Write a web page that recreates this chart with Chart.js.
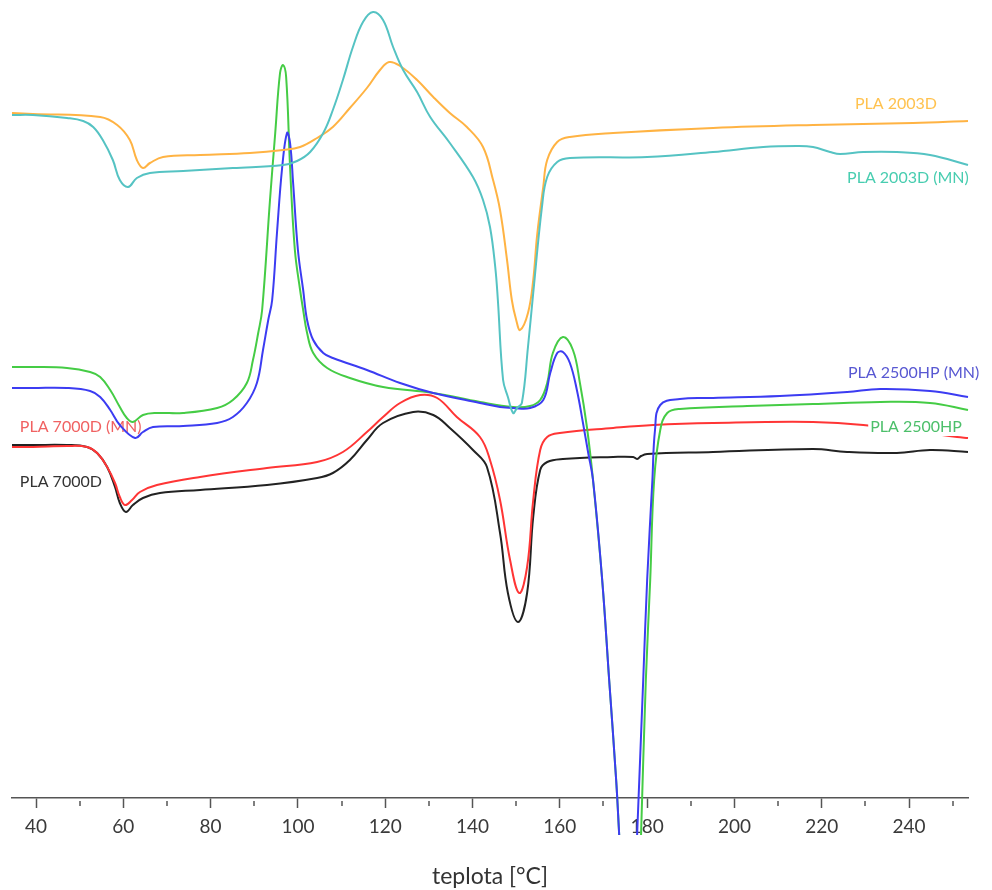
<!DOCTYPE html>
<html>
<head>
<meta charset="utf-8">
<script src="https://cdn.jsdelivr.net/npm/chart.js@4.4.1/dist/chart.umd.min.js"></script>
<style>
  html, body { margin: 0; padding: 0; background: #fff; }
  #wrap { width: 992px; height: 890px; }
</style>
</head>
<body>
<div id="wrap"><canvas id="dsc" width="992" height="890"></canvas></div>
<script>
// DSC křivky PLA — teplota [°C] / tepelný tok (relativní, posunuté křivky)

const xTicks = [40, 60, 80, 100, 120, 140, 160, 180, 200, 220, 240];
const xMinor = [50, 70, 90, 110, 130, 150, 170, 190, 210, 230, 250];

// PLA 2003D
const t2003D = [34.5, 39.3, 54.7, 58.6, 61.5, 63.1, 64.5, 66.1, 69.1, 77.6, 89.0, 96.6, 100.5, 104.4, 108.0, 111.9, 115.8, 118.8, 120.9, 123.4, 127.3, 131.0, 134.8, 138.7, 142.4, 144.7, 146.3, 147.9, 149.0, 150.0, 150.9, 152.7, 153.9, 154.8, 156.2, 157.1, 159.4, 162.3, 172.2, 195.1, 218.0, 240.9, 253.5];
const v2003D = [685, 684, 681, 673, 658, 638, 630, 635, 641, 643, 645, 648, 651, 660, 671, 690, 710, 728, 736, 732, 718, 701, 685, 671, 651, 618, 588, 538, 498, 478, 468, 485, 518, 563, 611, 638, 656, 661, 665, 670, 673, 675, 677];

// PLA 2003D (MN)
const t2003DMN = [34.5, 39.3, 47.1, 50.8, 53.1, 55.3, 57.6, 59.2, 61.1, 63.1, 66.1, 73.7, 85.1, 96.6, 99.8, 102.8, 105.8, 108.0, 110.3, 112.6, 114.9, 117.2, 119.5, 121.8, 124.1, 127.3, 130.3, 134.8, 140.1, 142.4, 144.0, 145.2, 145.8, 147.0, 148.1, 149.3, 150.2, 151.3, 152.7, 153.9, 155.9, 157.1, 159.4, 162.3, 180.0, 195.1, 206.6, 214.3, 218.0, 221.9, 224.2, 229.5, 237.2, 244.8, 253.5];
const v2003DMN = [683, 683, 680, 677, 671, 658, 638, 618, 611, 620, 625, 627, 630, 633, 637, 646, 665, 688, 718, 751, 776, 786, 778, 751, 728, 706, 681, 655, 621, 598, 571, 531, 498, 418, 401, 385, 390, 395, 451, 505, 591, 621, 636, 640, 641, 646, 651, 652, 651, 646, 644, 646, 646, 643, 633];

// PLA 2500HP (minimum tání je mimo graf -> mezera)
const t2500HP = [34.5, 39.3, 47.1, 52.4, 54.7, 57.0, 59.2, 60.8, 62.2, 64.5, 67.7, 73.7, 81.5, 85.1, 88.3, 89.7, 90.9, 91.8, 93.6, 94.8, 95.9, 96.6, 97.3, 98.2, 99.3, 100.5, 101.2, 102.1, 103.5, 106.7, 111.9, 119.5, 131.0, 141.7, 149.3, 153.2, 155.5, 157.1, 158.4, 160.7, 163.0, 164.6, 166.2, 167.6, 169.7, 171.3, 172.9, 173.6, 176.0, 178.6, 179.7, 180.7, 181.6, 183.0, 184.6, 187.5, 202.9, 218.0, 233.4, 244.8, 253.5];
const v2500HP = [431, 431, 430, 426, 421, 408, 391, 380, 376, 383, 385, 385, 390, 398, 415, 438, 465, 488, 598, 665, 725, 733, 721, 631, 548, 508, 488, 465, 445, 430, 420, 411, 405, 396, 391, 392, 398, 415, 445, 461, 448, 415, 371, 318, 218, 118, 18, -37, null, -37, 118, 218, 318, 368, 385, 389, 392, 394, 396, 395, 388];

// PLA 2500HP (MN)
const t2500HPMN = [34.5, 39.3, 47.1, 52.4, 54.7, 57.0, 59.2, 62.7, 64.5, 66.8, 73.7, 81.5, 85.1, 88.3, 90.6, 92.0, 93.2, 94.1, 95.2, 96.4, 97.5, 98.2, 98.9, 100.0, 101.2, 102.1, 103.5, 105.8, 108.0, 115.8, 123.4, 131.0, 141.7, 146.3, 149.3, 153.2, 156.2, 157.8, 159.4, 160.7, 162.3, 163.9, 165.3, 166.5, 167.6, 169.7, 171.3, 172.9, 173.6, 175.6, 177.7, 179.1, 180.0, 181.2, 181.8, 183.0, 187.5, 195.1, 210.4, 225.8, 233.4, 244.8, 253.5];
const v2500HPMN = [410, 410, 410, 407, 401, 388, 373, 360, 366, 371, 372, 375, 381, 395, 415, 448, 478, 498, 565, 631, 665, 655, 615, 548, 508, 478, 458, 445, 440, 428, 415, 405, 395, 391, 390, 390, 398, 425, 445, 446, 435, 408, 375, 345, 318, 218, 118, 18, -37, null, -37, 118, 218, 318, 368, 393, 399, 400, 402, 406, 409, 407, 401];

// PLA 7000D (MN)
const t7000DMN = [34.5, 39.3, 47.1, 51.7, 54.0, 56.3, 58.1, 59.2, 60.4, 62.0, 63.8, 67.7, 77.6, 92.9, 104.4, 110.3, 115.8, 119.5, 123.4, 128.0, 131.9, 136.4, 141.7, 144.0, 146.3, 148.6, 150.7, 152.5, 153.9, 155.5, 157.1, 160.0, 172.2, 181.4, 195.1, 218.0, 229.5, 251.0, 253.5];
const v7000DMN = [351, 351, 352, 351, 345, 331, 315, 301, 293, 298, 306, 313, 321, 330, 336, 346, 366, 381, 395, 403, 400, 381, 361, 338, 298, 238, 205, 231, 298, 348, 361, 365, 370, 373, 375, 376, 373, 361, 360];

// PLA 7000D
const t7000D = [34.5, 39.3, 47.1, 51.7, 54.0, 56.3, 58.1, 59.2, 60.6, 62.2, 64.5, 68.4, 77.6, 92.9, 104.4, 108.0, 111.9, 115.8, 119.5, 126.4, 131.0, 134.8, 140.1, 143.3, 146.3, 148.1, 150.4, 152.5, 153.9, 155.5, 157.1, 160.7, 172.2, 176.8, 177.7, 178.6, 180.0, 195.1, 218.0, 225.8, 237.2, 244.8, 253.5];
const v7000D = [353, 353, 353, 351, 345, 331, 311, 295, 286, 293, 300, 305, 308, 313, 320, 325, 338, 358, 375, 386, 383, 370, 348, 331, 265, 205, 176, 205, 281, 328, 336, 339, 341, 341, 339, 342, 344, 346, 349, 346, 345, 348, 346];

// popisky křivek (poloha v jednotkách os); bg = bílý podklad nad čarami
const curveLabels = [
    { text: 'PLA 2003D', x: 227.6, y: 694, color: '#FFC24F' },
    { text: 'PLA 2003D (MN)', x: 225.8, y: 620, color: '#48CDB0' },
    { text: 'PLA 2500HP (MN)', x: 226.0, y: 425, color: '#5858D2' },
    { text: 'PLA 2500HP', x: 231.1, y: 371, color: '#4CBF6A', bg: true },
    { text: 'PLA 7000D (MN)', x: 36.3, y: 371, color: '#F06262' },
    { text: 'PLA 7000D', x: 36.3, y: 316, color: '#333333' },
];

const pts = (t, v) => t.map((x, i) => ({ x: x, y: v[i] }));

function series(label, t, v, color) {
    return {
        label: label,
        data: pts(t, v),
        borderColor: color,
        borderWidth: 2,
        pointRadius: 0,
        fill: false,
        tension: 0.4,
        spanGaps: false,
        clip: false,
    };
}

function drawLabels(chart, withBg) {
    const { ctx, scales: { x, y } } = chart;
    ctx.save();
    ctx.font = '16px Lato';
    ctx.textBaseline = 'middle';
    ctx.textAlign = 'left';
    curveLabels.filter(l => !!l.bg === withBg).forEach(l => {
        const px = x.getPixelForValue(l.x);
        const py = y.getPixelForValue(l.y);
        if (l.bg) {
            const w = ctx.measureText(l.text).width;
            ctx.fillStyle = '#fff';
            ctx.fillRect(px - 2, py - 9, w + 4, 18);
        }
        ctx.fillStyle = l.color;
        ctx.fillText(l.text, px, py);
    });
    ctx.restore();
}

const labelPlugin = {
    id: 'dscLabels',
    beforeDatasetsDraw(chart) {
        drawLabels(chart, false);
    },
    afterDatasetsDraw(chart) {
        const { ctx, scales: { x, y } } = chart;
        ctx.save();
        // vedlejší dílky
        ctx.strokeStyle = '#555';
        ctx.lineWidth = 1.5;
        xMinor.forEach(t => {
            const px = Math.round(x.getPixelForValue(t));
            ctx.beginPath();
            ctx.moveTo(px, y.bottom + 3);
            ctx.lineTo(px, y.bottom + 8);
            ctx.stroke();
        });
        ctx.restore();
        drawLabels(chart, true);
    }
};

new Chart(document.getElementById('dsc'), {
    type: 'line',
    data: {
        datasets: [
            series('PLA 2003D (MN)', t2003DMN, v2003DMN, '#55C3C3'),
            series('PLA 2003D', t2003D, v2003D, '#FFB343'),
            series('PLA 2500HP (MN)', t2500HPMN, v2500HPMN, '#3C3CF2'),
            series('PLA 2500HP', t2500HP, v2500HP, '#45CC45'),
            series('PLA 7000D (MN)', t7000DMN, v7000DMN, '#FF3535'),
            series('PLA 7000D', t7000D, v7000D, '#222222'),
        ],
    },
    options: {
        responsive: false,
        animation: false,
        layout: { padding: { left: 12, right: 24, top: 0, bottom: 0 } },
        plugins: {
            legend: { display: false },
            tooltip: { enabled: false },
        },
        scales: {
            x: {
                type: 'linear',
                min: 34.5,
                max: 253.5,
                afterBuildTicks: (s) => { s.ticks = xTicks.map(v => ({ value: v })); },
                afterFit: (s) => { s.height = 92; },
                border: { display: true, color: '#555', width: 1.5 },
                grid: { display: true, drawOnChartArea: false, drawTicks: true, tickLength: 10, tickColor: '#555', tickWidth: 1.5 },
                ticks: { color: '#3a3a3a', font: { family: 'Lato', size: 19 }, padding: 7, maxRotation: 0 },
                title: {
                    display: true,
                    text: 'teplota [°C]',
                    color: '#333',
                    font: { family: 'Lato', size: 23 },
                    padding: { top: 0, bottom: 0 },
                },
            },
            y: {
                type: 'linear',
                display: false,
                min: 0,
                max: 798,
            },
        },
    },
    plugins: [labelPlugin],
});
</script>
</body>
</html>
